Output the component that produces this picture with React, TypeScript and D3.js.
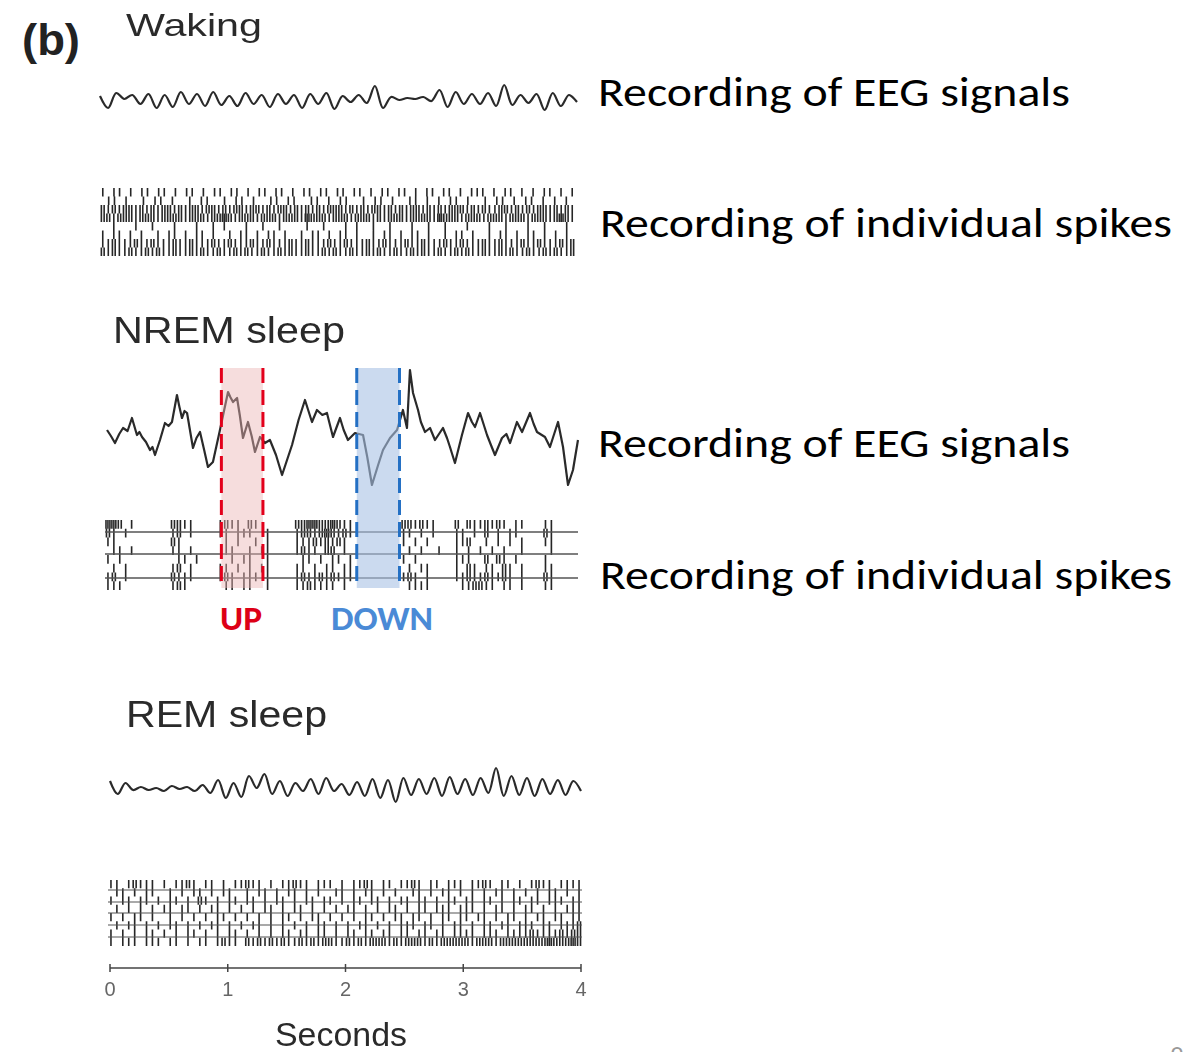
import React from "react";
import * as d3 from "d3";

// ---- data -------------------------------------------------------------

// time axis, seconds
const SECOND_TICKS = [0, 1, 2, 3, 4];
const DURATION = 4;

// EEG during waking, uniformly sampled over 4 s (arbitrary units, up = positive)
const wakingEEG = [
  4, -8, 7, 1, 5, -4, 6, -8, 5, -7, 8, -4, 6, -6, 8, -5, 4, -6, 7, -4,
  5, -7, 6, -4, 5, -8, 6, -4, 7, -9, 4, -2, 5, -3, 14, -8, 3, 0, 2, 1,
  3, -1, 10, -7, 8, -4, 6, -4, 7, -6, 15, -5, 5, -3, 6, -10, 7, -6, 5, -2,
];

// EEG during NREM sleep: [time (s), amplitude]
const nremEEG: [number, number][] = [
  [0.017, 0], [0.05, -6], [0.084, -13], [0.12, -4], [0.152, 2], [0.19, -1], [0.227, 12],
  [0.269, -5], [0.29, -2], [0.312, -7], [0.345, -12], [0.379, -20], [0.4, -17], [0.421, -25],
  [0.463, -10], [0.505, 7], [0.535, 4], [0.564, 8], [0.606, 35], [0.625, 24], [0.648, 12],
  [0.67, 19], [0.691, 17], [0.741, -18], [0.77, -8], [0.8, -2], [0.835, -20], [0.867, -37],
  [0.909, -32], [0.968, 0], [1.036, 38], [1.055, 33], [1.078, 28], [1.112, 32], [1.135, 15],
  [1.162, -8], [1.204, 8], [1.235, -6], [1.263, -22], [1.305, -7], [1.347, -13], [1.389, -10],
  [1.44, -25], [1.491, -45], [1.575, -15], [1.63, 10], [1.684, 30], [1.743, 8], [1.785, 20],
  [1.83, 15], [1.869, 17], [1.92, -7], [1.979, 12], [2.01, 0], [2.046, -10], [2.105, -3],
  [2.173, -5], [2.21, -28], [2.248, -55], [2.3, -35], [2.341, -20], [2.4, -8], [2.459, 0],
  [2.509, 20], [2.543, 2], [2.568, 60], [2.594, 37], [2.636, 20], [2.66, 8], [2.695, -2],
  [2.737, 2], [2.779, -10], [2.846, 2], [2.88, -8], [2.905, -17], [2.947, -33], [3.006, -5],
  [3.057, 17], [3.09, 8], [3.116, 3], [3.158, 17], [3.217, -5], [3.25, -15], [3.284, -25],
  [3.343, -8], [3.38, -4], [3.411, -13], [3.469, 8], [3.512, -2], [3.579, 17], [3.61, 6],
  [3.638, -2], [3.705, -7], [3.747, -17], [3.815, 8], [3.857, -17], [3.899, -55],
  [3.941, -40], [3.983, -10],
];

// EEG during REM sleep, uniformly sampled over 4 s
const remEEG = [
  7, -6, 5, -2, 1, -2, 0, -3, 2, -1, 1, -3, 3, -5, 8, -10, 5, -9, 12, 0,
  14, -6, 7, -8, 5, -3, 9, -6, 10, -3, 4, -7, 6, -8, 9, -10, 8, -14, 10, -7,
  9, -6, 10, -8, 11, -6, 9, -7, 10, -5, 20, -8, 12, -7, 10, -8, 9, -6, 8, -7,
  7, -3,
];

// spike rasters: one string per unit row, one character per 50 ms bin = spike count
const wakingSpikes = [
  "1011010110110101101011011010110110101101101101101011011010110110101110101101010110101",
  "0110100101101001011001011010011011001101011001011010011010101101001011010110101010",
  "21212212121221212212212122122121221212121222121212212121221212122212121122121212212121",
  "22122212221222212221223212221222122213222122212221212221222213222122212221222122212321",
  "00100010010001000100101000100100100001001000101001001000100100100010001001000100100010",
  "10110101001011010110100101101011010010110101101001011010110100101101001011010110101010",
  "11211121121112112111211211121121112112111211211121121112112111211211121121112112111212",
  "21211211212112112121121121211211212112112121121121211211212112112121121121211211212112",
];

const nremSpikes = [
  "33201000000221100001211021000000223322321100000000221211000202112121011000110000",
  "21010000000120100001101110010000122123212100000000110101000110102010110000210000",
  "11000000000210000000101001010000111212121000000000101010000112001010101000110000",
  "01101000000110100000110010110000121102201000000000010100100101010101001000010000",
  "10100000000011010000010110010000011010110100000000101000000111002021010000100000",
  "01010000000120100001101010110000110101101100000000010110000102101102101000110000",
  "12010000000211100001210111010000121121211100000000121010000112112112101000210000",
  "11100000000121000000110110010000112111101000000000011110000011221101101000110000",
];

const remSpikes = [
  "11012111010112101101011211010112110111010112101101121011011101121011010121101111",
  "01101011001010110101100101101011010100110101101010011010110101010110101010110101",
  "10110110101101021010110110101101011011010110110101101101011011011010110110111011",
  "01010101011011010110101010110101101010101101010110101101110111010110101101010111",
  "10101101001010101011010101010110101101010101101011011010110110110101101011011011",
  "01011010101101010110101011010101010110101011010101110110101101011011011101101112",
  "10101011010101101010110101010110110110101101101101101101101111011101111211112122",
  "10111011101101011012110212121211212122112121222121222121222221222122222222322232",
];

// shaded UP / DOWN intervals on the NREM trace (s)
const upState: [number, number] = [0.98, 1.33];
const downState: [number, number] = [2.12, 2.48];
const stateLabels = ["UP", "DOWN"];

const panelTitles = ["Waking", "NREM sleep", "REM sleep"];
const recordingLabels = ["Recording of EEG signals", "Recording of individual spikes"];

// ---- drawing helpers --------------------------------------------------

type Scale = d3.ScaleLinear<number, number>;

function uniformSeries(values: number[]): [number, number][] {
  return values.map((v, i) => [(i * DURATION) / (values.length - 1), v]);
}

function tracePath(pts: [number, number][], x: Scale, y: Scale, curve: d3.CurveFactory) {
  return (
    d3
      .line<[number, number]>()
      .x((d) => x(d[0]))
      .y((d) => y(d[1]))
      .curve(curve)(pts) || ""
  );
}

function rasterPath(rows: string[], x: Scale, top: number, bottom: number) {
  const rowH = (bottom - top) / rows.length;
  const p = d3.path();
  rows.forEach((row, r) => {
    const bins = row.length;
    const binDur = DURATION / bins;
    for (let i = 0; i < bins; i++) {
      const n = +row[i];
      for (let k = 0; k < n; k++) {
        const t = (i + (k + 0.5) / n) * binDur;
        const xx = x(t);
        p.moveTo(xx, top + r * rowH);
        p.lineTo(xx, top + (r + 1) * rowH);
      }
    }
  });
  return p.toString();
}

// ---- chart ------------------------------------------------------------

export default function App() {
  const W = 1196;
  const H = 1052;

  // waking panel
  const xWake = d3.scaleLinear().domain([0, DURATION]).range([100, 577]);
  const yWake = d3.scaleLinear().domain([-20, 20]).range([120, 80]);
  const xWakeRaster = d3.scaleLinear().domain([0, DURATION]).range([100, 575]);

  // NREM panel
  const xNrem = d3.scaleLinear().domain([0, DURATION]).range([105, 580]);
  const yNrem = d3.scaleLinear().domain([-60, 60]).range([490, 370]);
  const xNremRaster = d3.scaleLinear().domain([0, DURATION]).range([105, 578]);

  // REM panel
  const xRem = d3.scaleLinear().domain([0, DURATION]).range([110, 581]);
  const yRem = d3.scaleLinear().domain([-20, 20]).range([808, 768]);
  const xRemRaster = d3.scaleLinear().domain([0, DURATION]).range([108, 582]);

  const boxTop = 368;
  const boxBottom = 588;
  const nremSeparators = [532, 554, 578];
  const remSeparators = [890, 902, 913, 925, 937];

  const figFont = "'Liberation Sans', Arial, Helvetica, sans-serif";
  const labelFont = "Carlito, Calibri, Lato, 'Noto Sans', sans-serif";
  const ink = "#2a2a2a";

  const states = [
    { span: upState, fill: "#eab4b4", fillOpacity: 0.45, stroke: "#e3001b", text: "#dd0016", label: stateLabels[0], tx: 220, tl: 42 },
    { span: downState, fill: "#a8c2e4", fillOpacity: 0.6, stroke: "#2470c4", text: "#4a8ad6", label: stateLabels[1], tx: 331, tl: 102 },
  ];

  const spikeStroke = { stroke: "#111", strokeWidth: 1.6, strokeOpacity: 0.9, fill: "none" };

  return (
    <svg
      width={W}
      height={H}
      viewBox={`0 0 ${W} ${H}`}
      style={{ position: "absolute", left: 0, top: 0, background: "#fff" }}
    >
      <defs>
        <filter id="soft" x="-5%" y="-5%" width="110%" height="110%">
          <feGaussianBlur stdDeviation="0.75" />
        </filter>
        <filter id="softer" x="-5%" y="-5%" width="110%" height="110%">
          <feGaussianBlur stdDeviation="0.65" />
        </filter>
      </defs>
      <rect width={W} height={H} fill="#fff" />

      {/* figure panel label */}
      <text x={22} y={55} fontFamily={figFont} fontWeight={700} fontSize={44} fill="#222" textLength={58} lengthAdjust="spacingAndGlyphs">
        (b)
      </text>

      <g filter="url(#soft)">
        {/* titles */}
        <text x={126} y={36} fontFamily={figFont} fontSize={32} fill={ink} textLength={136} lengthAdjust="spacingAndGlyphs">
          {panelTitles[0]}
        </text>
        <text x={113} y={343} fontFamily={figFont} fontSize={36} fill={ink} textLength={232} lengthAdjust="spacingAndGlyphs">
          {panelTitles[1]}
        </text>
        <text x={126} y={727} fontFamily={figFont} fontSize={36} fill={ink} textLength={201} lengthAdjust="spacingAndGlyphs">
          {panelTitles[2]}
        </text>

        {/* EEG traces */}
        <path d={tracePath(uniformSeries(wakingEEG), xWake, yWake, d3.curveCatmullRom.alpha(0.5))} fill="none" stroke="#2a2a2a" strokeWidth={2.2} />
        <path d={tracePath(nremEEG, xNrem, yNrem, d3.curveLinear)} fill="none" stroke="#2a2a2a" strokeWidth={2.2} strokeLinejoin="round" />
        <path d={tracePath(uniformSeries(remEEG), xRem, yRem, d3.curveCatmullRom.alpha(0.5))} fill="none" stroke="#2a2a2a" strokeWidth={2.2} />

        {/* time axis */}
        <line x1={xRem(0)} x2={xRem(DURATION)} y1={968} y2={968} stroke="#444" strokeWidth={1.5} />
        {SECOND_TICKS.map((t) => (
          <g key={t}>
            <line x1={xRem(t)} x2={xRem(t)} y1={964} y2={972} stroke="#444" strokeWidth={1.5} />
            <text x={xRem(t)} y={996} textAnchor="middle" fontFamily={figFont} fontSize={20} fill="#666">
              {t}
            </text>
          </g>
        ))}
        <text x={275} y={1046} fontFamily={figFont} fontSize={34} fill={ink} textLength={132} lengthAdjust="spacingAndGlyphs">
          Seconds
        </text>
      </g>

      {/* spike rasters */}
      <g filter="url(#softer)">
        <path d={rasterPath(wakingSpikes, xWakeRaster, 188, 256)} {...spikeStroke} />
        <path d={rasterPath(nremSpikes, xNremRaster, 520, 590)} {...spikeStroke} />
        {nremSeparators.map((yy) => (
          <line key={yy} x1={xNremRaster(0)} x2={xNremRaster(DURATION)} y1={yy} y2={yy} stroke="#555" strokeWidth={1.6} />
        ))}
        <path d={rasterPath(remSpikes, xRemRaster, 880, 946)} {...spikeStroke} />
        {remSeparators.map((yy) => (
          <line key={yy} x1={xRemRaster(0)} x2={xRemRaster(DURATION)} y1={yy} y2={yy} stroke="#555" strokeWidth={1} />
        ))}
      </g>

      {/* UP / DOWN shading */}
      {states.map((s) => (
        <g key={s.label}>
          <rect x={xNrem(s.span[0])} y={boxTop} width={xNrem(s.span[1]) - xNrem(s.span[0])} height={boxBottom - boxTop} fill={s.fill} fillOpacity={s.fillOpacity} />
          {[s.span[0], s.span[1]].map((t) => (
            <line key={t} x1={xNrem(t)} x2={xNrem(t)} y1={boxTop} y2={boxBottom} stroke={s.stroke} strokeWidth={3} strokeDasharray="15 7" />
          ))}
          <text x={s.tx} y={630} fontFamily={labelFont} fontWeight={700} fontSize={35} fill={s.text} textLength={s.tl} lengthAdjust="spacingAndGlyphs">
            {s.label}
          </text>
        </g>
      ))}

      {/* right-hand annotations */}
      <text x={598} y={106} fontFamily={labelFont} fontSize={40} fill="#000" textLength={472} lengthAdjust="spacingAndGlyphs">
        {recordingLabels[0]}
      </text>
      <text x={600} y={237} fontFamily={labelFont} fontSize={40} fill="#000" textLength={572} lengthAdjust="spacingAndGlyphs">
        {recordingLabels[1]}
      </text>
      <text x={598} y={457} fontFamily={labelFont} fontSize={40} fill="#000" textLength={472} lengthAdjust="spacingAndGlyphs">
        {recordingLabels[0]}
      </text>
      <text x={600} y={589} fontFamily={labelFont} fontSize={40} fill="#000" textLength={572} lengthAdjust="spacingAndGlyphs">
        {recordingLabels[1]}
      </text>

      {/* slide number, cut by the page edge */}
      <text x={1170} y={1064} fontFamily={labelFont} fontSize={26} fill="#999">
        9
      </text>
    </svg>
  );
}
